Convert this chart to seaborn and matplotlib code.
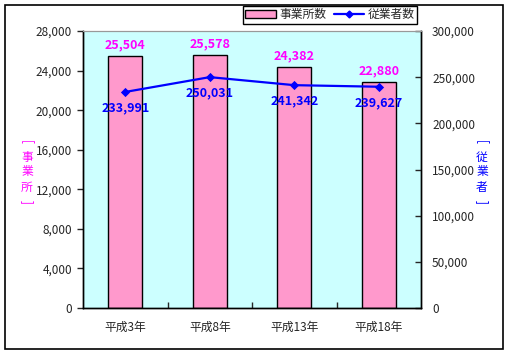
import pandas as pd
import matplotlib.pyplot as plt
import seaborn as sns
from matplotlib.patches import Patch, Rectangle
from matplotlib.lines import Line2D
from matplotlib.ticker import FuncFormatter

# データ
years = ['平成3年', '平成8年', '平成13年', '平成18年']
jigyosho = [25504, 25578, 24382, 22880]
jugyosha = [233991, 250031, 241342, 239627]

df = pd.DataFrame({'年': years, '事業所数': jigyosho, '従業者数': jugyosha})

sns.set_style('white')
plt.rcParams['font.family'] = ['Noto Sans CJK JP', 'DejaVu Sans']

fig = plt.figure(figsize=(5.08, 3.54), dpi=100)
fig.patch.set_facecolor('white')
# 外枠
fig.patches.append(Rectangle((5 / 508, 5 / 354), 498 / 508, 344 / 354,
                             transform=fig.transFigure, fill=False,
                             edgecolor='black', linewidth=1.2))

ax = fig.add_axes([83 / 508, 1 - 308 / 354, 338 / 508, 277 / 354])
ax.set_facecolor('#CCFFFF')

sns.barplot(data=df, x='年', y='事業所数', ax=ax, color='#FF99CC',
            edgecolor='black', linewidth=1, width=0.4, saturation=1)
ax.set_ylim(0, 28000)
ax.set_yticks(range(0, 28001, 4000))
ax.yaxis.set_major_formatter(FuncFormatter(lambda v, p: f'{int(v):,}'))
ax.set_xlabel('')
ax.set_ylabel('')

for i, v in enumerate(jigyosho):
    ax.text(i, v + 1100, f'{v:,}', ha='center', va='center', color='#FF00FF',
            fontsize=9, fontweight='bold')

ax2 = ax.twinx()
sns.pointplot(data=df, x='年', y='従業者数', ax=ax2, color='#0000FF',
              markers='D', markersize=3.5, linewidth=1.6)
ax2.set_ylim(0, 300000)
ax2.set_yticks(range(0, 300001, 50000))
ax2.yaxis.set_major_formatter(FuncFormatter(lambda v, p: f'{int(v):,}'))
ax2.set_xlim(-0.5, 3.5)
ax2.set_ylabel('')
ax2.set_xlabel('')

for i, v in enumerate(jugyosha):
    ax2.text(i, v - 17500, f'{v:,}', ha='center', va='center', color='#0000FF',
             fontsize=9, fontweight='bold')

for a in (ax, ax2):
    for s in ('left', 'right', 'bottom'):
        a.spines[s].set_color('black')
        a.spines[s].set_linewidth(1)
    a.spines['top'].set_color('#999999')
    a.spines['top'].set_linewidth(0.8)

ax.tick_params(axis='y', which='major', direction='out', length=4, width=1,
               labelsize=8.5, pad=4, left=True)
ax.tick_params(axis='x', length=0, labelsize=8.5, pad=9)
ax.set_xticks([0, 1, 2, 3])
ax.set_xticklabels(years)
ax.set_xticks([0.5, 1.5, 2.5], minor=True)
ax.tick_params(axis='x', which='minor', direction='in', length=4, width=1,
               bottom=True)
ax2.tick_params(axis='y', direction='in', length=4, width=1, labelsize=8.5,
                pad=8, right=True)


# 軸ラベル（縦書き）
def vertical_label(x_px, chars, color):
    ys = [142 + 15 * k for k in range(len(chars) + 2)]
    fig.text(x_px / 508, 1 - ys[0] / 354, '[', rotation=-90, color=color,
             ha='center', va='center', fontsize=8.5)
    for k, c in enumerate(chars):
        fig.text(x_px / 508, 1 - ys[k + 1] / 354, c, color=color,
                 ha='center', va='center', fontsize=8.5)
    fig.text(x_px / 508, 1 - ys[-1] / 354, ']', rotation=-90, color=color,
             ha='center', va='center', fontsize=8.5)


vertical_label(27, '事業所', '#FF00FF')
vertical_label(482, '従業者', '#0000FF')

# 凡例
handles = [Patch(facecolor='#FF99CC', edgecolor='black', linewidth=1),
           Line2D([0], [0], color='#0000FF', linewidth=1.6, marker='D',
                  markersize=3.5)]
fig.legend(handles, ['事業所数', '従業者数'], loc='upper left',
           bbox_to_anchor=(243 / 508, 1 - 6 / 354), ncol=2, fontsize=8.5,
           frameon=True, fancybox=False, edgecolor='black', framealpha=1,
           borderpad=0.2, handlelength=2.6, handletextpad=0.3,
           columnspacing=0.6, borderaxespad=0)

plt.savefig('out.png', dpi=100)
